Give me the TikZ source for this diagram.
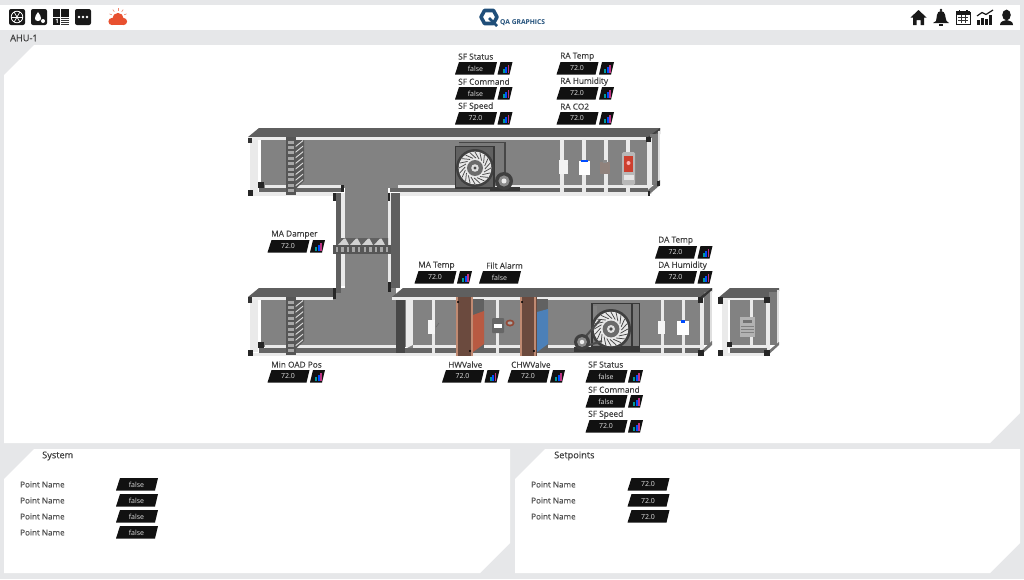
\documentclass[tikz,border=0pt]{standalone}
\usepackage{fontspec}
\setmainfont{Open Sans}
\newfontfamily\lblfont[FakeBold=0.25]{Open Sans}
\definecolor{pagebg}{HTML}{E6E7E9}
\definecolor{ductgray}{HTML}{828282}
\definecolor{facegray}{HTML}{5F5F5F}
\definecolor{floorgray}{HTML}{666666}
\definecolor{frame}{HTML}{EAEAEA}
\definecolor{grate}{HTML}{565656}
\definecolor{txt}{HTML}{3C3C3C}
\definecolor{boxblk}{HTML}{111111}
\definecolor{logoblue}{HTML}{1F4E79}
\definecolor{cloud}{HTML}{E8502F}
\definecolor{copper}{HTML}{6B4A3E}
\definecolor{salmon}{HTML}{C08A72}
\definecolor{redcoil}{HTML}{B85A42}
\definecolor{bluecoil}{HTML}{4C80B8}
\tikzset{
  x=1pt,y=-1pt,
  lbl/.style={anchor=west,inner sep=0pt,font=\lblfont\fontsize{8.3}{10}\selectfont,text=txt},
  val/.style={anchor=center,inner sep=0pt,font=\fontsize{7}{9}\selectfont,text=white!88!black},
  ptname/.style={lbl,font=\lblfont\fontsize{8.1}{10}\selectfont,text=txt!90!white},
  headtxt/.style={lbl,font=\lblfont\fontsize{9.2}{11}\selectfont},
  post/.style={fill=frame},
  blk/.style={fill=black!85},
}
% value box: name, x, y, text
\newcommand{\valbox}[4]{%
  \fill[boxblk] (#2+4,#3)--(#2+42,#3)--(#2+39,#3+12.5)--(#2,#3+12.5)--cycle;
  \node[val] (#1) at (#2+20.5,#3+6.5) {#4};}
% trend icon: x,y
\newcommand{\trendicon}[2]{%
  \fill[boxblk] (#1+3,#2)--(#1+15,#2)--(#1+12,#2+12.5)--(#1,#2+12.5)--cycle;
  \fill[teal!80!cyan] (#1+5,#2+6.5) rectangle (#1+7,#2+10.5);
  \fill[blue!70!cyan] (#1+7.5,#2+4.5) rectangle (#1+9.5,#2+10.5);
  \fill[magenta!75!black] (#1+10,#2+2.5) rectangle (#1+11.5,#2+10.5);}
% labelled point: name, label x, label y, box x, text, label text
\newcommand{\pointv}[6]{%
  \node[lbl] (#1l) at (#2,#3+.6) {#6};
  \valbox{#1v}{#4}{#3+6}{#5}%
  \trendicon{#4+42.5}{#3+6}}
% panel with cut corners
\newcommand{\panel}[4]{%
  \fill[white] (#1+30,#2)--(#3,#2)--(#3,#4-30)--(#3-30,#4)--(#1,#4)--(#1,#2+30)--cycle;}
% vertical damper: x, y top
\newcommand{\vdamper}[2]{%
  \fill[grate] (#1,#2) rectangle (#1+9.5,#2+58);
  \foreach \k in {0,...,9}{\fill[gray!70] (#1+2,#2+3.5+5.4*\k) rectangle (#1+7.5,#2+6.5+5.4*\k);}
  \fill[black!65] (#1+9.5,#2+3)--(#1+18,#2+3)--(#1+18,#2+44)--(#1+9.5,#2+52)--cycle;
  \foreach \k in {0,...,7}{\fill[white!70!gray] (#1+9.5,#2+9+5.6*\k)--(#1+17,#2+3+5.6*\k)--(#1+17,#2+4.2+5.6*\k)--(#1+9.5,#2+10.2+5.6*\k)--cycle;}}
% fan wheel: cx,cy,r
\newcommand{\fanwheel}[3]{%
  \fill[black!75] (#1,#2) circle (#3);
  \fill[white!82!gray] (#1,#2) circle (#3*0.86);
  \foreach \a in {0,18,...,342}{\draw[black!72,line width=.75pt] (#1,#2) ++(\a:#3*0.84) -- ++(\a+150:#3*0.42);}
  \fill[black!58] (#1,#2) circle (#3*0.42);
  \fill[white!75!gray] (#1,#2) circle (#3*0.2);
  \fill[black!70] (#1,#2) circle (#3*0.09);}
\newcommand{\motorunit}[3]{%
  \fill[black!75] (#1,#2) circle (#3);
  \fill[black!45] (#1,#2) circle (#3*0.62);
  \fill[white!85!gray] (#1,#2) circle (#3*0.28);}
\begin{document}
\begin{tikzpicture}
\useasboundingbox (0,0) rectangle (1024,579);
\fill[pagebg] (0,0) rectangle (1024,579);
% bars and panels
\fill[white] (0,5) rectangle (1020,30);
\node[headtxt] (title) at (10,38) {AHU-1};
\panel{4}{45}{1020}{443}
\panel{4}{449}{510}{573}
\panel{515}{449}{1020}{573}

% ---- header icons left
\fill[black!90,rounded corners=2pt] (9,9) rectangle (25,25);
\draw[white,line width=.8pt] (17,17) circle (5.8);
\foreach \a in {0,60,...,300}{\draw[white,line width=.7pt] (17,17) -- ++(\a:5.8);}
\fill[black!90,rounded corners=2pt] (31,9) rectangle (47,25);
\fill[white] (38,12)..controls (34,17) and (34,21)..(38,21)..controls (42,21) and (42,17)..(38,12)--cycle;
\fill[white] (43,21) circle (2);
\fill[black!90] (53,9) rectangle (60,16.5);
\fill[black!90] (61,9) rectangle (69,16.5);
\fill[black!90] (53,17.5) rectangle (60,25);
\node[inner sep=0pt,text=white,font=\fontsize{6}{6}\selectfont\bfseries] (gridnum) at (57,21.5) {1};
\foreach \k in {18.5,20.5,22.5,24.5}{\fill[black!80] (61,\k-.7) rectangle (69,\k+.4);}
\fill[black!90,rounded corners=2pt] (75,9) rectangle (91,25);
\foreach \k in {79,83,87}{\fill[white] (\k,17) circle (1.3);}
% weather
\foreach \a in {20,55,90,125,160}{\draw[cloud!70!white,line width=.6pt] (118,17) ++(\a:-6.5) -- ++(\a:-2.6);}
\fill[cloud] (112,21.5) circle (3.6);
\fill[cloud] (118,18.5) circle (5.6);
\fill[cloud] (123.5,21.5) circle (3.6);
\fill[cloud] (112,20) rectangle (123.5,25.1);
% logo
\draw[logoblue,line width=3.6pt,line join=round] (484.5,10.5)--(493.5,10.5)--(497,17)--(493.5,23.5)--(484.5,23.5)--(481,17)--cycle;
\draw[logoblue,line width=2.8pt] (489,18)--(497,26);
\node[inner sep=0pt,anchor=west,text=logoblue,font=\fontsize{6.7}{7}\selectfont\bfseries] (logo) at (500,22.5) {QA GRAPHICS};
% ---- header icons right
\fill[black!90] (918.5,10)--(926.5,17.5)--(924,17.5)--(924,25)--(920.5,25)--(920.5,20)--(916.5,20)--(916.5,25)--(913,25)--(913,17.5)--(910.5,17.5)--cycle;
\fill[black!90] (941,10) circle (1.3);
\fill[black!90] (936,21)..controls (937,18) and (936,11)..(941,11)..controls (946,11) and (945,18)..(946.5,21)--(949,23)--(933,23)--cycle;
\fill[black!90] (939,24) rectangle (943,25.5);
\draw[black!90,line width=1pt] (956,12) rectangle (970,24.5);
\fill[black!90] (956,11) rectangle (970,14.5);
\fill[black!90] (958.5,9.5) rectangle (960,12);\fill[black!90] (966,9.5) rectangle (967.5,12);
\draw[black!80,line width=.6pt] (958,17) -- (968,17) (958,20) -- (968,20) (961,15) -- (961,23) (965,15) -- (965,23);
\foreach \xa/\ya in {977/20,981/18,985/19,989/15}{\fill[black!90] (\xa,\ya) rectangle (\xa+3,25);}
\draw[black!90,line width=1.2pt] (977,16)--(982,12.5)--(986,14.5)--(993,10);
\fill[black!90] (1006.5,15) ellipse (4.3 and 5.4);
\fill[black!90] (1000,25)..controls (1000,21.5) and (1003,21) ..(1006.5,20)..controls (1010,21) and (1013,21.5)..(1013,25)--cycle;

% ===== Upper duct =====
\fill[ductgray] (261,139) rectangle (648,188);
\fill[facegray] (248,137)--(259,128)--(660,128)--(660,134)--(648,137)--cycle;
\fill[black!75] (648,137)--(660,128)--(660,130)--(650,138)--cycle;
\fill[white!85!gray] (248,137) rectangle (648,139.5);
% right end
\fill[black!52] (650,134) rectangle (660,185);
\fill[post] (647,138) rectangle (652,194);
\fill[white!75!gray] (658,131) rectangle (660,184);
\fill[black!55] (648,195.5)--(660,185)--(660,180)--(648,190)--cycle;
\fill[blk] (646,137) rectangle (651,142);
\fill[blk] (645,191) rectangle (650,196);
\fill[blk] (657,181) rectangle (660,186);
% left end
\fill[post] (250,139) rectangle (258,192);
\fill[black!80] (248,137.5) rectangle (252,143);
% floor left piece and right piece
\fill[post] (265,184.5) rectangle (342,188);
\fill[floorgray] (259,188) rectangle (342,192);
\fill[post] (248,192) rectangle (333,195.5);
\fill[blk] (258,182) rectangle (264,188);
\fill[blk] (248,190) rectangle (253,195.5);
\fill[post] (398,184.5) rectangle (648,188);
\fill[floorgray] (390,188) rectangle (648,192);
\fill[post] (400,192) rectangle (648,195.5);

% ===== Lower left duct =====
\fill[ductgray] (261,299) rectangle (396,347);
\fill[facegray] (248,297)--(259,288)--(333,288)--(333,297)--cycle;
\fill[white!85!gray] (248,297) rectangle (333,299.5);
\fill[post] (250,299) rectangle (258,352);
\fill[black!80] (248,297) rectangle (252,303);
\fill[post] (265,345) rectangle (396,347.5);
\fill[floorgray] (259,347.5) rectangle (396,352.5);
\fill[post] (248,352.5) rectangle (396,356);
\fill[blk] (258,342) rectangle (264,348);
\fill[blk] (248,350) rectangle (253,356);

% ===== Vertical riser =====
\fill[ductgray] (345,186) rectangle (388,300);
\fill[ductgray] (335,288) rectangle (345,300);
\fill[ductgray] (388,288) rectangle (396,300);
\fill[facegray] (335.5,193) rectangle (341,293);
\fill[post] (341,193) rectangle (345,286);
\fill[post] (388,193) rectangle (391,286);
\fill[facegray] (391,193) rectangle (400,288);
\fill[blk] (333,193) rectangle (335.5,201);
\fill[blk] (388,193) rectangle (390,201);
\fill[blk] (341,185) rectangle (344,192);
\fill[blk] (333,288) rectangle (335.5,299);
\fill[blk] (388,282) rectangle (390.5,292);
% horizontal damper
\fill[black!62] (336,245)--(339,238)--(388,238)--(388,245)--cycle;
\foreach \k in {0,...,3}{\fill[white!65!gray] (338+12*\k,245)--(344+12*\k,238.5)--(345.5+12*\k,238.5)--(349+12*\k,245)--cycle;}
\fill[grate] (333,245) rectangle (391,254);
\foreach \k in {0,...,9}{\fill[gray!70] (335.5+5.6*\k,247) rectangle (338+5.6*\k,252);}

% dampers in the two left ducts
\vdamper{286}{137}
\vdamper{286}{297}

% ===== Main lower duct =====
\fill[ductgray] (405,299) rectangle (704,347);
\fill[facegray] (392,297)--(403,288)--(712,288)--(712,292)--(700,297)--cycle;
\fill[white!85!gray] (392,297) rectangle (700,299.5);
\fill[black!72] (396,299.5) rectangle (405,356);
\fill[post] (406,299.5) rectangle (413,347);
\fill[black!50] (405,356)--(405,349)--(413,345)--(413,352)--cycle;
\fill[post] (413,345) rectangle (700,347.5);
\fill[floorgray] (405,347.5) rectangle (700,352.5);
\fill[post] (396,352.5) rectangle (700,356);
% posts
\foreach \px in {433,497,662,683}{\fill[post] (\px-1.5,299) rectangle (\px+1.5,353);}
% right end
\fill[black!52] (704,292) rectangle (712,345);
\fill[post] (700,298) rectangle (704,354);
\fill[white!75!gray] (709.5,291) rectangle (712,345);
\fill[black!55] (700,356)--(712,345)--(712,341)--(700,352)--cycle;
\fill[blk] (698,297) rectangle (703,303);
\fill[blk] (698,350) rectangle (704,356);
\fill[black!80] (700,297)--(712,288)--(712,290)--(703,298)--cycle;
% devices lower duct
\fill[white!92!gray] (428,320) rectangle (435,334);
\draw[black!60,line width=.5pt] (436,327)--(439,323);
\fill[black!60,rounded corners=1pt] (492,318) rectangle (504,333);
\fill[white] (494,324) rectangle (502,328);
\fill[redcoil!80!black] (510,323) ellipse (4.5 and 3.5);
\fill[ductgray!70!white] (510,323) ellipse (2.5 and 1.6);
% HW coil
\fill[black!62] (473,299) rectangle (484,350);
\fill[redcoil] (473,315)--(484,311)--(484,344)--(473,352)--cycle;
\fill[copper] (457,297) rectangle (473,356);
\fill[salmon] (456,297) rectangle (458,356);
\fill[salmon] (471,297) rectangle (473,356);
\fill[black] (458,302) circle (1.1);\fill[black] (470,351) circle (1.1);
% CHW coil
\fill[black!62] (537,299) rectangle (548,350);
\fill[bluecoil] (537,312)--(548,309)--(548,344)--(537,352)--cycle;
\fill[copper] (520,297) rectangle (537,356);
\fill[salmon] (520,297) rectangle (522,356);
\fill[salmon] (534,297) rectangle (536,356);
\fill[black] (522,302) circle (1.1);\fill[black] (534,351) circle (1.1);
% lower fan
\fill[black!52] (591,303) rectangle (640,347);
\fill[ductgray] (593,306) rectangle (597,323);
\draw[black!78,line width=1.4pt] (592,303.5) rectangle (639.5,347);
\draw[black!78,line width=1.4pt] (632,303.5) -- (632,347);
\fanwheel{611}{329}{20}
\fill[black!78] (574,347) rectangle (640,351.5);
\draw[black!70,line width=2pt] (586,336)--(600,320) (586,346)--(602,341);
\motorunit{582}{342}{8}
% lower sensors
\fill[white!92!gray] (658,321) rectangle (665,334);
\fill[white] (677,321) rectangle (689,335);
\fill[blue!70!cyan] (681,320) rectangle (685,322.5);

% ===== Upper duct content =====
\foreach \px in {562,584,606,628}{\fill[post] (\px-2,139) rectangle (\px+2,194);}
\fill[black!52] (459,142) rectangle (505,186);
\draw[black!72,line width=1.2pt] (459,142.5) -- (505,142.5) -- (505,186);
\fill[black!62] (455,146) rectangle (494,188);
\draw[black!78,line width=1.2pt] (455.6,146.6) rectangle (494,188);
\fanwheel{475}{168}{19}
\fill[black!78] (490,187) rectangle (520,191);
\motorunit{504}{181}{9}
\fill[white!90!gray] (559,160) rectangle (568,174);
\draw[black!50,line width=.5pt] (568,165)--(570,163);
\fill[white] (579,161) rectangle (590,175);
\fill[blue!70!cyan] (581,160) rectangle (588,162);
\fill[gray!75!salmon] (600,162) rectangle (610,174);
\fill[black!45] (603,160) rectangle (607,163);
\fill[black!28,rounded corners=1.5pt] (622,152) rectangle (635,185);
\fill[redcoil!70!red] (624,156) rectangle (633,172);
\fill[white!70!red] (628.5,163) circle (2);
\fill[white!80!gray] (624,175) rectangle (634,180);

% ===== Right small duct =====
\fill[ductgray] (730,299) rectangle (767,347);
\fill[facegray] (718,298)--(730,288)--(779,288)--(779,291)--(767,298)--cycle;
\fill[white!85!gray] (718,297.5) rectangle (767,299.5);
\fill[black!52] (769,292) rectangle (777,345);
\fill[post] (722,299) rectangle (728,353);
\fill[post] (749.5,299) rectangle (752.5,353);
\fill[post] (766,298) rectangle (769.5,354);
\fill[white!75!gray] (777,290) rectangle (779,345);
\fill[post] (729,345) rectangle (767,347.5);
\fill[floorgray] (730,347.5) rectangle (767,352.5);
\fill[post] (718,352.5) rectangle (767,356);
\fill[black!55] (767,356)--(779,345)--(779,342)--(767,352)--cycle;
\fill[blk] (718,297) rectangle (723,304);
\fill[blk] (764,297) rectangle (770,303);
\fill[blk] (718,350) rectangle (723,356);
\fill[blk] (764,350) rectangle (770,356);
\fill[blk] (727,342) rectangle (732,347);
\fill[black!30] (740,317) rectangle (755,337);
\fill[black!55] (743,320) rectangle (752,323);
\foreach \k in {326,329,332}{\fill[black!50] (741,\k) rectangle (754,\k+.5);}

% ===== Points =====
\pointv{sfst}{458}{56}{455}{false}{SF Status}
\pointv{sfcm}{458}{81}{455}{false}{SF Command}
\pointv{sfsp}{458}{106}{455}{72.0}{SF Speed}
\pointv{ratp}{560}{56}{556.5}{72.0}{RA Temp}
\pointv{rahm}{560}{81}{556.5}{72.0}{RA Humidity}
\pointv{raco}{560}{106}{556.5}{72.0}{RA CO2}
\pointv{madm}{271}{234}{267.5}{72.0}{MA Damper}
\pointv{matp}{418}{265}{414.5}{72.0}{MA Temp}
\node[lbl] (filtl) at (486,265.6) {Filt Alarm};
\valbox{filtv}{479}{271}{false}
\pointv{datp}{658}{240}{655}{72.0}{DA Temp}
\pointv{dahm}{658}{265}{655}{72.0}{DA Humidity}
\pointv{mnoa}{271}{364}{267.5}{72.0}{Min OAD Pos}
\pointv{hwvl}{448}{364}{442}{72.0}{HWValve}
\pointv{chwv}{511}{364}{507.5}{72.0}{CHWValve}
\pointv{sfst2}{588}{364}{585.5}{false}{SF Status}
\pointv{sfcm2}{588}{389}{585.5}{false}{SF Command}
\pointv{sfsp2}{588}{414}{585.5}{72.0}{SF Speed}

% ===== Bottom panels =====
\node[headtxt] (sys) at (42,456) {System};
\node[headtxt] (setp) at (554,456) {Setpoints};
\node[ptname] (pa) at (20,484.5) {Point Name};
\node[ptname] (pb) at (20,500.5) {Point Name};
\node[ptname] (pc) at (20,516.5) {Point Name};
\node[ptname] (pd) at (20,532.5) {Point Name};
\valbox{va}{116}{478}{false}
\valbox{vb}{116}{494}{false}
\valbox{vc}{116}{510}{false}
\valbox{vd}{116}{526}{false}
\node[ptname] (qa) at (531,484.5) {Point Name};
\node[ptname] (qb) at (531,500.5) {Point Name};
\node[ptname] (qc) at (531,516.5) {Point Name};
\valbox{wa}{627.5}{478}{72.0}
\valbox{wb}{627.5}{494}{72.0}
\valbox{wc}{627.5}{510}{72.0}
\end{tikzpicture}
\end{document}
